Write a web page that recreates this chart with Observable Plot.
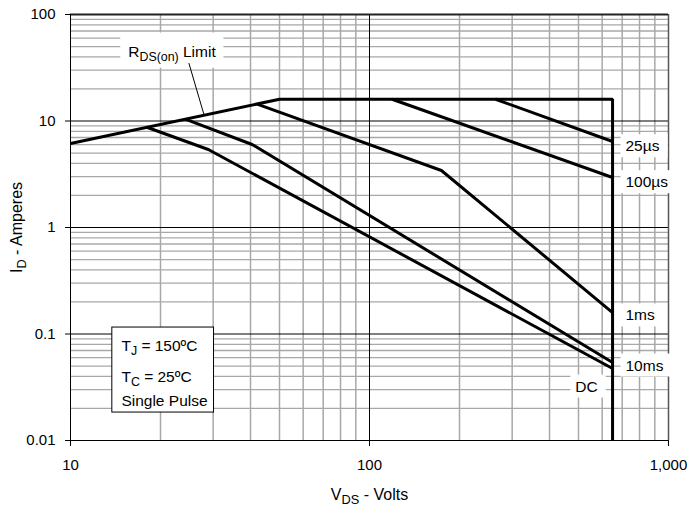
<!DOCTYPE html>
<html><head><meta charset="utf-8">
<script src="https://cdn.jsdelivr.net/npm/d3@7"></script>
<script src="https://cdn.jsdelivr.net/npm/@observablehq/plot@0.6"></script>
<style>body{margin:0;background:#fff} svg{display:block}</style>
</head><body><div id="chart"></div>
<script>
// Axis ticks
const xTicks = [10, 100, 1000];
const xTickLabels = ["10", "100", "1,000"];
const yTicks = [0.01, 0.1, 1, 10, 100];
const yTickLabels = ["0.01", "0.1", "1", "10", "100"];
const xMinor = [20, 30, 40, 50, 60, 70, 80, 90, 200, 300, 400, 500, 600, 700, 800, 900];
const yMinor = [0.02, 0.03, 0.04, 0.05, 0.06, 0.07, 0.08, 0.09,
                0.2, 0.3, 0.4, 0.5, 0.6, 0.7, 0.8, 0.9,
                2, 3, 4, 5, 6, 7, 8, 9,
                20, 30, 40, 50, 60, 70, 80, 90];

// Safe operating area curves (V_DS volts, I_D amperes)
const limitV = [10, 50, 650, 650];
const limitI = [6.15, 16, 16, 0.01];
const us25V = [264, 650];
const us25I = [16, 6.42];
const us100V = [119, 650];
const us100I = [16, 2.95];
const ms1V = [42.1, 174, 650];
const ms1I = [14.4, 3.43, 0.159];
const ms10V = [24.2, 40.5, 650];
const ms10I = [10.4, 6.02, 0.054];
const dcV = [18.0, 28.9, 650];
const dcI = [8.73, 5.40, 0.0474];

// Curve labels
const curveLabels = ["25µs", "100µs", "1ms", "10ms", "DC"];
const curveLabelV = [718, 718, 718, 718, 488];
const curveLabelI = [5.2, 2.39, 0.134, 0.0454, 0.0288];

// R_DS(on) annotation
const rdsLabel = "R_{DS(on)} Limit";
const rdsLabelV = 15.6, rdsLabelI = 40.3;
const leaderV = [24.9, 28.0];
const leaderI = [34.7, 11.3];

// Conditions box
const condText = ["T_{J} = 150ºC", "T_{C} = 25ºC", "Single Pulse"];
const condV = [14.8, 14.8, 14.8];
const condI = [0.069, 0.0353, 0.0209];
const condBox = [{x1: 13.8, x2: 30.2, y1: 0.0183, y2: 0.115}];

const series = [
  {name: "limit", V: limitV, I: limitI},
  {name: "25us", V: us25V, I: us25I},
  {name: "100us", V: us100V, I: us100I},
  {name: "1ms", V: ms1V, I: ms1I},
  {name: "10ms", V: ms10V, I: ms10I},
  {name: "DC", V: dcV, I: dcI}
];
const rows = [];
series.forEach(s => s.V.forEach((v, i) => rows.push({series: s.name, V: v, I: s.I[i]})));
const labelRows = curveLabels.map((t, i) => ({t, V: curveLabelV[i], I: curveLabelI[i]}));
const condRows = condText.map((t, i) => ({t, V: condV[i], I: condI[i]}));
const leaderRows = leaderV.map((v, i) => ({V: v, I: leaderI[i]}));

const plot = Plot.plot({
  width: 689, height: 508,
  marginLeft: 70, marginRight: 21, marginTop: 14, marginBottom: 68,
  style: {fontFamily: "'Liberation Sans', Arial, sans-serif", fontSize: "15px", background: "white", color: "black"},
  x: {type: "log", domain: [10, 1000], ticks: xTicks, tickFormat: d => xTickLabels[xTicks.indexOf(d)], tickSize: 6, tickPadding: 13, label: null},
  y: {type: "log", domain: [0.01, 100], ticks: yTicks, tickFormat: d => yTickLabels[yTicks.indexOf(d)], tickSize: 5, tickPadding: 10, label: null},
  marks: [
    Plot.ruleX(xMinor, {stroke: "#a8a8a8", strokeWidth: 1.5}),
    Plot.ruleY(yMinor, {stroke: "#a8a8a8", strokeWidth: 1.3}),
    Plot.ruleX([100], {stroke: "black", strokeWidth: 1}),
    Plot.ruleY([0.1, 1, 10], {stroke: "black", strokeWidth: 1}),
    Plot.ruleX([1000], {stroke: "#555", strokeWidth: 1.5}),
    Plot.ruleY([100], {stroke: "#222", strokeWidth: 2}),
    Plot.ruleX([10], {stroke: "black", strokeWidth: 1}),
    Plot.ruleY([0.01], {stroke: "black", strokeWidth: 1}),
    Plot.line(rows, {x: "V", y: "I", z: "series", stroke: "black", strokeWidth: 3, strokeLinejoin: "miter", strokeLinecap: "butt"}),
    Plot.rect(condBox, {x1: "x1", x2: "x2", y1: "y1", y2: "y2", fill: "white", stroke: "black", strokeWidth: 1}),
    Plot.text(condRows, {x: "V", y: "I", text: "t", textAnchor: "start", lineAnchor: "bottom", fontSize: 15.5}),
    Plot.text(labelRows, {x: "V", y: "I", text: "t", textAnchor: "start", lineAnchor: "bottom", fontSize: 15.5}),
    Plot.text([rdsLabel], {x: () => rdsLabelV, y: () => rdsLabelI, text: d => d, textAnchor: "start", lineAnchor: "bottom", fontSize: 15.5}),
    Plot.line(leaderRows, {x: "V", y: "I", stroke: "black", strokeWidth: 1}),
    Plot.text(["V_{DS} - Volts"], {frameAnchor: "bottom", dy: 59, lineAnchor: "bottom", textAnchor: "middle", fontSize: 16}),
    Plot.text(["I_{D} - Amperes"], {frameAnchor: "left", dx: -49, rotate: -90, lineAnchor: "bottom", textAnchor: "middle", fontSize: 16})
  ]
});
document.getElementById("chart").appendChild(plot);

const NS = "http://www.w3.org/2000/svg";
const plain = s => s.replace(/_\{([^}]*)\}/g, "$1");
// subscripts
plot.querySelectorAll("text").forEach(t => {
  const s = t.textContent;
  if (!s.includes("_{")) return;
  const fs = parseFloat(getComputedStyle(t).fontSize) || 15;
  t.textContent = "";
  let shifted = false;
  s.split(/(_\{[^}]*\})/).forEach(p => {
    if (!p) return;
    const ts = document.createElementNS(NS, "tspan");
    if (p.startsWith("_{")) {
      ts.textContent = p.slice(2, -1);
      ts.setAttribute("font-size", (fs * 0.8).toFixed(2));
      ts.setAttribute("dy", (fs * 0.27).toFixed(2));
      shifted = true;
    } else {
      ts.textContent = p;
      if (shifted) { ts.setAttribute("dy", (-fs * 0.27).toFixed(2)); shifted = false; }
    }
    t.appendChild(ts);
  });
});
// white boxes behind labels
const pads = {};
curveLabels.forEach(l => pads[l] = {l: 5, r: 8, t: 3, b: 3});
pads[plain(rdsLabel)] = {l: 8, r: 7, t: 10, b: 4};
plot.querySelectorAll("text").forEach(t => {
  const p = pads[t.textContent];
  if (!p) return;
  const b = t.getBBox();
  const r = document.createElementNS(NS, "rect");
  r.setAttribute("x", b.x - p.l);
  r.setAttribute("y", b.y - p.t);
  r.setAttribute("width", b.width + p.l + p.r);
  r.setAttribute("height", b.height + p.t + p.b);
  r.setAttribute("fill", "white");
  r.setAttribute("stroke", "none");
  const tr = t.getAttribute("transform");
  if (tr) r.setAttribute("transform", tr);
  t.parentNode.insertBefore(r, t);
});
</script>
</body></html>
